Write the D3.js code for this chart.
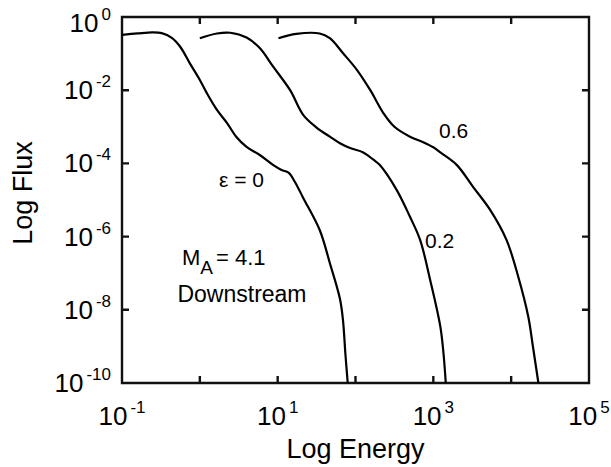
<!DOCTYPE html>
<html>
<head>
<meta charset="utf-8">
<script src="https://cdn.jsdelivr.net/npm/d3@7"></script>
<style>
  body { margin: 0; background: #fff; }
  svg text { font-family: "Liberation Sans", Arial, Helvetica, sans-serif; fill: #000; }
</style>
</head>
<body>
<div id="chart"></div>
<script>
// curves as [log10 energy, log10 flux]
const eps0 = [[-1.00,-0.49],[-0.80,-0.45],[-0.61,-0.42],[-0.49,-0.44],[-0.36,-0.57],[-0.25,-0.82],
  [-0.13,-1.26],[0.00,-1.72],[0.09,-2.08],[0.22,-2.54],[0.35,-2.90],[0.47,-3.28],[0.60,-3.55],
  [0.77,-3.77],[0.94,-4.04],[1.05,-4.18],[1.14,-4.25],[1.22,-4.50],[1.33,-4.95],[1.54,-5.82],
  [1.67,-6.72],[1.80,-7.70],[1.84,-8.30],[1.87,-9.20],[1.90,-10.0]];
const eps02 = [[0.00,-0.58],[0.22,-0.45],[0.39,-0.43],[0.60,-0.56],[0.77,-0.85],[0.94,-1.35],
  [1.16,-2.00],[1.33,-2.68],[1.50,-3.02],[1.67,-3.27],[1.80,-3.45],[1.93,-3.58],[2.10,-3.70],
  [2.23,-3.90],[2.31,-4.04],[2.53,-4.73],[2.70,-5.46],[2.83,-6.09],[2.96,-7.19],[3.09,-8.46],
  [3.13,-9.18],[3.16,-10.0]];
const eps06 = [[1.01,-0.58],[1.24,-0.46],[1.54,-0.45],[1.67,-0.58],[1.84,-0.99],[2.02,-1.45],
  [2.19,-2.00],[2.36,-2.63],[2.50,-3.00],[2.70,-3.27],[2.87,-3.42],[3.00,-3.56],[3.09,-3.70],
  [3.30,-4.04],[3.51,-4.64],[3.73,-5.27],[3.94,-6.09],[4.09,-7.09],[4.22,-8.19],[4.28,-9.01],
  [4.35,-10.0]];

const xTickExp = [-1, 0, 1, 2, 3, 4, 5];
const xLabelExp = [-1, 1, 3, 5];
const yTickExp = [0, -2, -4, -6, -8, -10];

const curveLabels = [
  { text: "ε = 0", at: [0.535, -4.64] },
  { text: "0.2", at: [3.08, -6.31] },
  { text: "0.6", at: [3.26, -3.31] }
];

(function(){
  const width = 611, height = 467;
  const margin = { top: 17, right: 22, bottom: 84, left: 122 };
  const x0 = margin.left, x1 = width - margin.right;
  const y0 = margin.top, y1 = height - margin.bottom;

  const svg = d3.select("#chart").append("svg")
    .attr("width", width)
    .attr("height", height);

  const x = d3.scaleLog().domain([1e-1, 1e5]).range([x0, x1]);
  const y = d3.scaleLog().domain([1e-10, 1]).range([y1, y0]);
  const p10 = e => Math.pow(10, e);

  const xTicks = xTickExp.map(p10), yTicks = yTickExp.map(p10);

  // frame plus inward ticks on all four sides, one path
  const tickLen = 7;
  const path = d3.path();
  path.moveTo(x0, y0); path.lineTo(x1, y0); path.lineTo(x1, y1); path.lineTo(x0, y1); path.closePath();
  xTicks.forEach(t => {
    path.moveTo(x(t), y1); path.lineTo(x(t), y1 - tickLen);
    path.moveTo(x(t), y0); path.lineTo(x(t), y0 + tickLen);
  });
  yTicks.forEach(t => {
    path.moveTo(x0, y(t)); path.lineTo(x0 + tickLen, y(t));
    path.moveTo(x1, y(t)); path.lineTo(x1 - tickLen, y(t));
  });
  svg.append("path")
    .attr("d", path.toString())
    .attr("fill", "none")
    .attr("stroke", "#111")
    .attr("stroke-width", 2.4);

  function powerLabel(sel, exp) {
    sel.append("tspan").text("10");
    sel.append("tspan").attr("dx", 3).attr("dy", -12)
      .style("font-size", "17px").text(exp < 0 ? "-" + (-exp) : exp);
  }

  svg.selectAll(".xlab").data(xLabelExp).enter().append("text")
    .attr("class", "xlab")
    .attr("x", d => x(p10(d)))
    .attr("y", y1 + 42)
    .attr("text-anchor", "middle")
    .style("font-size", "26px")
    .each(function(d){ powerLabel(d3.select(this), d); });

  svg.selectAll(".ylab").data(yTickExp).enter().append("text")
    .attr("class", "ylab")
    .attr("x", x0 - 11)
    .attr("y", d => Math.max(y(p10(d)) + 9, 32))
    .attr("text-anchor", "end")
    .style("font-size", "26px")
    .each(function(d){ powerLabel(d3.select(this), d); });

  const line = d3.line()
    .x(d => x(p10(d[0])))
    .y(d => y(p10(d[1])))
    .curve(d3.curveCatmullRom.alpha(0.5));

  svg.selectAll(".curve")
    .data([eps0, eps02, eps06])
    .enter().append("path")
    .attr("class", "curve")
    .attr("d", line)
    .attr("fill", "none")
    .attr("stroke", "black")
    .attr("stroke-width", 2.2)
    .attr("stroke-linejoin", "round");

  svg.selectAll(".clabel")
    .data(curveLabels)
    .enter().append("text")
    .attr("class", "clabel")
    .attr("x", d => x(p10(d.at[0])))
    .attr("y", d => y(p10(d.at[1])))
    .attr("text-anchor", "middle")
    .style("font-size", "21px")
    .text(d => d.text);

  // Mach number note
  const note = svg.append("text")
    .attr("x", 182).attr("y", 265)
    .style("font-size", "22px");
  note.append("tspan").text("M");
  note.append("tspan").attr("dy", 9).style("font-size", "19px").text("A");
  note.append("tspan").attr("dx", 3).attr("dy", -9).text("= 4.1");

  svg.append("text")
    .attr("x", 242).attr("y", 302)
    .attr("text-anchor", "middle")
    .style("font-size", "23px")
    .text("Downstream");

  // axis titles
  svg.append("text")
    .attr("x", (x0 + x1) / 2)
    .attr("y", 458)
    .attr("text-anchor", "middle")
    .style("font-size", "27px")
    .text("Log Energy");

  svg.append("text")
    .attr("transform", "translate(32,193) rotate(-90)")
    .attr("text-anchor", "middle")
    .style("font-size", "27px")
    .text("Log Flux");
})();
</script>
</body>
</html>
